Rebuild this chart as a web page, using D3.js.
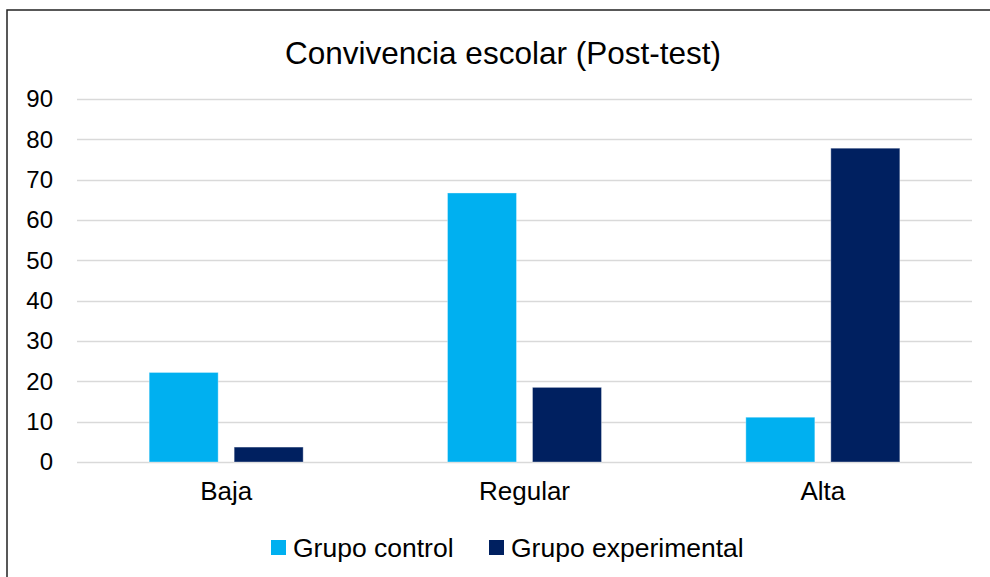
<!DOCTYPE html>
<html>
  <head>
    <meta charset="utf-8">
    <script src="https://d3js.org/d3.v7.min.js"></script>
    <style>
      body { margin: 0; background: #fff; }
      text { font-family: "Liberation Sans", Arial, sans-serif; fill: #000; }
    </style>
  </head>
<body>
  <script type="text/javascript">
    // chart data (percentages)
    var categories = ["Baja", "Regular", "Alta"];
    var seriesNames = ["Grupo control", "Grupo experimental"];
    var control = [22.2, 66.7, 11.1];
    var experimental = [3.7, 18.5, 77.8];
    var yTicks = [0, 10, 20, 30, 40, 50, 60, 70, 80, 90];
    var colors = ["#00B0F0", "#002060"];

    var width = 990, height = 577;

    var svg = d3.select("body").append("svg")
        .attr("width", width)
        .attr("height", height);

    // chart frame
    svg.append("rect")
        .attr("x", 7).attr("y", 10)
        .attr("width", 1000).attr("height", 600)
        .attr("fill", "#fff")
        .attr("stroke", "#222")
        .attr("stroke-width", 1.5);

    var plot = { left: 77, right: 972, top: 99, bottom: 462 };

    var x = d3.scaleBand()
        .domain(categories)
        .range([plot.left, plot.right]);

    var y = d3.scaleLinear()
        .domain([0, 90])
        .range([plot.bottom, plot.top]);

    // bar layout inside each band
    var barW = 69, barGap = 16;
    var x1 = d3.scaleOrdinal()
        .domain([0, 1])
        .range([-barGap / 2 - barW, barGap / 2]);

    // gridlines
    svg.append("g")
        .selectAll("line")
        .data(yTicks)
        .join("line")
          .attr("x1", plot.left).attr("x2", plot.right)
          .attr("y1", function (d) { return Math.round(y(d)) + 0.5; })
          .attr("y2", function (d) { return Math.round(y(d)) + 0.5; })
          .attr("stroke", "#d9d9d9")
          .attr("stroke-width", 1.5);

    // y axis labels
    var yAxis = d3.axisLeft(y).tickValues(yTicks).tickSize(0).tickPadding(0);
    var gy = svg.append("g")
        .attr("transform", "translate(53,0)")
        .call(yAxis);
    gy.select(".domain").remove();
    gy.selectAll("text")
        .style("font-family", "Liberation Sans, Arial, sans-serif")
        .style("font-size", "24px")
        .attr("fill", "#000");

    // bars
    var rows = categories.map(function (c, i) {
      return { cat: c, values: [control[i], experimental[i]] };
    });

    var groups = svg.append("g")
        .selectAll("g")
        .data(rows)
        .join("g")
          .attr("transform", function (d) { return "translate(" + (x(d.cat) + x.bandwidth() / 2) + ",0)"; });

    groups.selectAll("rect")
        .data(function (d) { return d.values.map(function (v, k) { return { v: v, k: k }; }); })
        .join("rect")
          .attr("x", function (d) { return x1(d.k); })
          .attr("width", barW)
          .attr("y", function (d) { return y(d.v); })
          .attr("height", function (d) { return y(0) - y(d.v); })
          .attr("fill", function (d) { return colors[d.k]; })
          .attr("stroke", "rgba(255,255,255,0.35)")
          .attr("stroke-width", 1);

    // x axis labels
    var xAxis = d3.axisBottom(x).tickSize(0).tickPadding(0);
    var gx = svg.append("g")
        .attr("transform", "translate(0,482)")
        .call(xAxis);
    gx.select(".domain").remove();
    gx.selectAll("text")
        .style("font-family", "Liberation Sans, Arial, sans-serif")
        .style("font-size", "26px")
        .attr("fill", "#000");

    // title
    svg.append("text")
        .attr("x", 503)
        .attr("y", 64)
        .attr("text-anchor", "middle")
        .style("font-size", "31.5px")
        .text("Convivencia escolar (Post-test)");

    // legend
    var legendX = [271, 489];
    var legend = svg.append("g")
        .selectAll("g")
        .data(seriesNames)
        .join("g")
          .attr("transform", function (d, i) { return "translate(" + legendX[i] + ",540)"; });
    legend.append("rect")
        .attr("width", 15).attr("height", 15)
        .attr("fill", function (d, i) { return colors[i]; });
    legend.append("text")
        .attr("x", 22)
        .attr("y", 17)
        .style("font-size", "26.5px")
        .text(function (d) { return d; });
  </script>
</body>
</html>
